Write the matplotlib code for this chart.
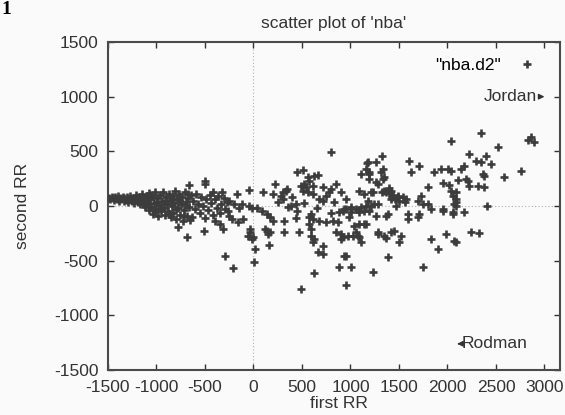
import numpy as np
import matplotlib
matplotlib.use("Agg")
import matplotlib.pyplot as plt

plt.rcParams["font.family"] = ["Liberation Sans", "DejaVu Sans"]
plt.rcParams["axes.unicode_minus"] = False

# --- data: (first RR, second RR) pairs, grouped by region ---
left_band = [
    (-1490, 75), (-1475, 60), (-1460, 85), (-1450, 70), (-1440, 55), (-1425, 80),
    (-1410, 65), (-1400, 90), (-1390, 50), (-1380, 75), (-1365, 60), (-1350, 85),
    (-1340, 45), (-1330, 70), (-1315, 55), (-1300, 80), (-1290, 35), (-1280, 65),
    (-1270, 95), (-1255, 50), (-1240, 75), (-1230, 25), (-1220, 60), (-1210, 100),
    (-1195, 40), (-1185, 80), (-1170, 15), (-1160, 55), (-1150, 110), (-1140, 30),
    (-1130, 75), (-1120, -5), (-1110, 50), (-1100, 95), (-1090, 20), (-1080, -40),
    (-1075, 120), (-1065, 60), (-1055, -10), (-1045, 85), (-1035, -70), (-1025, 30),
    (-1015, 130), (-1005, -30), (-995, 70), (-985, -90), (-975, 10), (-965, 100),
    (-955, -50), (-945, 45), (-935, 125), (-925, -15), (-915, -80), (-905, 80),
    (-895, 20), (-885, -45), (-875, 110), (-865, 55), (-855, -100), (-845, 0),
    (-835, 90), (-825, -60), (-815, 30), (-805, 135), (-795, -120), (-785, 60),
    (-775, -20), (-765, 110), (-755, -80), (-745, 15), (-735, 80), (-725, -140),
    (-715, -40), (-705, 125), (-695, 40), (-685, -95), (-675, 70), (-665, -10),
    (-655, -130), (-645, 100), (-1060, 100), (-1020, -50), (-990, 40),
    (-950, -20), (-910, 40), (-870, -70), (-840, 60), (-800, -30), (-760, 50),
    (-720, -90), (-700, 10), (-680, 110),
]

mid_left = [
    (-662, 191), (-497, 227), (-497, 200), (-414, 127), (-321, 127), (-779, -188),
    (-683, -282), (-507, -227), (-295, -455), (-635, -100), (-393, -136),
    (-342, -164), (-310, -209), (-207, -565), (20, -391), (5, -509),
    (-620, 50), (-600, -30), (-590, 110), (-570, 20), (-555, -60), (-540, 80),
    (-520, 0), (-505, -110), (-490, 60), (-470, -40), (-450, 100), (-435, 30),
    (-420, -80), (-400, 60), (-380, -20), (-365, 90), (-350, -60), (-330, 20),
    (-300, 70), (-290, -30), (-270, 40), (-250, -90), (-166, 109), (-42, 145),
    (-32, -236), (0, -282), (-259, -45), (-218, -118), (-156, -145), (-104, -118),
    (-115, 18), (-50, 0), (-20, -20), (-52, -273), (-11, -300), (-32, -209),
    (-250, 50), (-200, 20), (-150, -20),
]

centre = [
    (103, 127), (217, 205), (300, 127), (350, 155), (445, 309), (506, 327),
    (620, 273), (661, 282), (568, 227), (206, 109), (330, 136), (279, 91),
    (485, 182), (537, 173), (506, 136), (558, 127), (610, 109), (713, 173),
    (744, 91), (713, 45), (775, 127), (847, 200), (827, 36), (899, 127),
    (930, -27), (434, 18), (382, 0), (351, -9), (40, -20), (90, -45), (140, -70),
    (175, -100), (196, -136), (144, -227), (310, -236), (470, -236), (155, -355),
    (485, -755), (310, -136), (434, -109), (568, -100), (610, -118), (568, -164),
    (589, -209), (620, -300), (610, -327), (672, -136), (744, -145), (816, -136),
    (868, -145), (847, -236), (899, -300), (713, -364), (661, -418), (713, -436),
    (123, -209), (154, -255), (175, -236), (620, -609), (878, -555), (930, -455),
    (796, 494), (589, -73), (589, -273), (878, -55), (920, -282), (899, -255),
    (558, 264), (517, 200), (610, 182), (796, 155), (250, 40), (300, 60),
    (400, 80), (450, -50), (520, 30), (650, -20), (680, 60), (800, -60),
    (950, 60), (980, -100),
]

mid_right = [
    (1323, 455), (1168, 391), (1261, 400), (1333, 336), (1344, 264), (1106, 291),
    (1188, 291), (1188, 245), (1261, 218), (1282, 200), (1602, 409), (1623, 309),
    (1706, 364), (1861, 309), (1933, 336), (2005, 336), (1954, 210), (2015, 190),
    (2057, 91), (2088, 64), (1799, 173), (1726, 91), (1695, 45), (1747, 18),
    (1395, 164), (1416, 136), (1395, 118), (1437, 100), (1426, 82), (1457, 64),
    (1488, 82), (1540, 82), (1364, 127), (1323, 127), (1500, 45), (1560, 40),
    (1230, 127), (1178, 45), (1157, 0), (1240, 18), (1282, 18), (1106, -9),
    (1054, -27), (1002, -9), (951, -27), (920, -45), (1002, -55), (1085, -55),
    (1829, -27), (1954, -27), (2057, -55), (1706, -73), (1695, -100), (1592, -118),
    (1364, -91), (1261, -91), (1188, -45), (1157, -164), (1033, -182), (1054, -236),
    (1075, -273), (1106, -327), (971, -273), (1282, -255), (1344, -273),
    (1364, -291), (1416, -236), (1519, -273), (1499, -327), (1829, -300),
    (1902, -391), (1985, -255), (2067, -318), (1385, -464), (951, -455),
    (1002, -555), (1230, -600), (1747, -555), (951, -727), (1468, 0), (1209, 0),
    (1137, -45), (1385, -73), (1592, -73), (1799, 18), (2067, 18), (1954, -45),
    (1085, -164), (1085, -282), (1137, -164), (1023, -273), (1282, -236),
    (1447, -227), (1178, 400), (1157, 336), (1188, 309), (1312, 309), (1333, 245),
    (1085, 136), (1137, 109), (1209, 127), (1344, 136), (1416, 64), (1488, 91),
    (1571, 64),
]

right_side = [
    (2036, 594), (2346, 664), (2833, 600), (2864, 627), (2895, 582), (2522, 536),
    (2222, 473), (2398, 455), (2295, 409), (2346, 400), (2450, 382), (2171, 364),
    (2140, 336), (2036, 318), (2760, 318), (2584, 264), (2367, 291), (2377, 273),
    (2109, 236), (2191, 245), (2212, 227), (2222, 182), (2315, 182), (2377, 173),
    (2036, 136), (2088, 127), (2088, 36), (2088, 0), (2057, -73), (2171, -55),
    (2410, 0), (2243, -236), (2326, -245), (2088, -327),
]

x_ticks = [-1500, -1000, -500, 0, 500, 1000, 1500, 2000, 2500, 3000]
y_ticks = [-1500, -1000, -500, 0, 500, 1000, 1500]

pts = left_band + mid_left + centre + mid_right + right_side
first_rr = np.array([p[0] for p in pts])
second_rr = np.array([p[1] for p in pts])

fig = plt.figure(figsize=(5.65, 4.15), dpi=100)
fig.patch.set_facecolor("#fafafa")
ax = fig.add_axes([108 / 565, 1 - 370 / 415, 452 / 565, 328 / 415])
ax.set_facecolor("#fafafa")

# gnuplot zero axes (dotted)
ax.axhline(0, color="#b0b0b0", ls=(0, (1, 2)), lw=0.8, zorder=1)
ax.axvline(0, color="#b0b0b0", ls=(0, (1, 2)), lw=0.8, zorder=1)

ax.plot(first_rr, second_rr, ls="none", marker="+", ms=5.5, mew=1.9,
        color="#3c3c3c", label='"nba.d2"', zorder=3)

ax.set_xlim(-1500, 3160)
ax.set_ylim(-1500, 1500)
ax.set_xticks(x_ticks)
ax.set_yticks(y_ticks)
ax.tick_params(direction="in", length=4, width=1, top=True, right=True,
               labelsize=12.5, colors="#333333")
ax.tick_params(axis="x", pad=7.5)
ax.tick_params(axis="y", pad=7)
for s in ax.spines.values():
    s.set_linewidth(1.5)
    s.set_color("#4a4a4a")

ax.set_title("scatter plot of 'nba'", fontsize=12.5, pad=10, color="#333333")
ax.set_xlabel("first RR", fontsize=12.5, color="#333333")
ax.set_ylabel("second RR", fontsize=12.5, color="#333333")
ax.xaxis.set_label_coords(0.51, -0.079)
ax.yaxis.set_label_coords(-0.173, 0.5)

ax.legend(loc="upper right", markerfirst=False, frameon=False, fontsize=12.5,
          handletextpad=0.5, handlelength=2)

arrow = dict(arrowstyle="-|>", lw=1, color="#333333", shrinkA=0, shrinkB=0,
             mutation_scale=8)
ax.annotate("Jordan", xy=(3000, 1000), xytext=(2920, 1000), ha="right",
            va="center", fontsize=12.5, color="#333333", arrowprops=arrow)
ax.annotate("Rodman", xy=(2100, -1260), xytext=(2150, -1260), ha="left",
            va="center", fontsize=12.5, color="#333333", arrowprops=arrow)

# panel number, cropped at the page edge in the scan
fig.text(0.002, 0.998, "1", fontfamily="Liberation Serif", fontweight="bold",
         fontsize=14, ha="left", va="top")

fig.savefig("out.png", dpi=100, facecolor=fig.get_facecolor())
